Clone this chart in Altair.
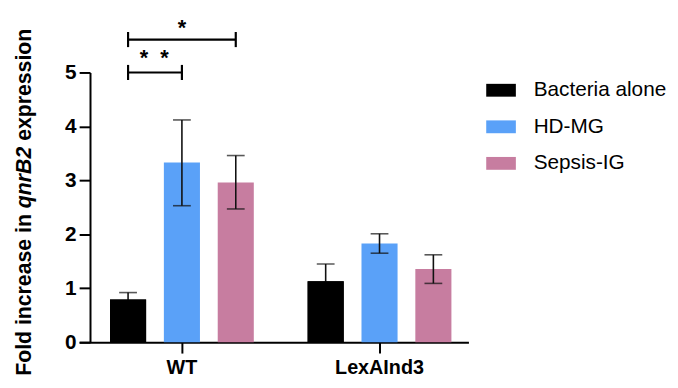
import altair as alt
import pandas as pd

# ---------------- data ----------------
groups = ["WT", "LexAInd3"]
series = ["Bacteria alone", "HD-MG", "Sepsis-IG"]
colors = ["#000000", "#5aa1f8", "#c77da0"]

wt_mean = [0.79, 3.33, 2.96]
wt_low = [0.66, 2.53, 2.47]
wt_high = [0.92, 4.12, 3.46]

lex_mean = [1.13, 1.83, 1.355]
lex_low = [0.81, 1.65, 1.09]
lex_high = [1.45, 2.01, 1.62]

y_ticks = [0, 1, 2, 3, 4, 5]

# significance brackets within WT
sig_group = ["WT", "WT"]
sig_from = ["Bacteria alone", "Bacteria alone"]
sig_to = ["HD-MG", "Sepsis-IG"]
sig_level = [5.0, 5.61]
sig_label = ["*\u00a0\u00a0*", "*"]
sig_label_pos = ["HD-MG", "HD-MG"]
sig_label_y = [5.34, 5.89]

title_parts = ["Fold increase in", "qnrB2", "expression"]

# ---------------- tables ----------------
rows = []
for g, m, lo, hi in [("WT", wt_mean, wt_low, wt_high), ("LexAInd3", lex_mean, lex_low, lex_high)]:
    for s, mm, l, h in zip(series, m, lo, hi):
        rows.append({"group": g, "series": s, "mean": mm, "low": l, "high": h})
df = pd.DataFrame(rows)

line_rows, tick_rows = [], []
for i, (g, a, b, lev) in enumerate(zip(sig_group, sig_from, sig_to, sig_level)):
    for s in (a, b):
        line_rows.append({"group": g, "series": s, "y": lev, "id": i})
        tick_rows.append({"group": g, "series": s, "y1": lev - 0.14, "y2": lev + 0.14})
lines_df = pd.DataFrame(line_rows)
ticks_df = pd.DataFrame(tick_rows)
lab_double = pd.DataFrame({"group": [sig_group[0]], "series": [sig_label_pos[0]],
                           "y": [sig_label_y[0]], "t": [sig_label[0]]})
lab_single = pd.DataFrame({"group": [sig_group[1]], "series": [sig_label_pos[1]],
                           "y": [sig_label_y[1]], "t": [sig_label[1]]})

# ---------------- layout ----------------
W, H = 394, 273
FONT = "Liberation Sans"

x_enc = alt.X(
    "group:N", sort=groups,
    scale=alt.Scale(paddingInner=0.1825, paddingOuter=0.07625, align=0.73),
    axis=alt.Axis(title=None, labelAngle=0, labelFont=FONT, labelFontSize=20,
                  labelFontWeight="bold", labelColor="black", labelPadding=5,
                  domainColor="black", domainWidth=2, tickColor="black",
                  tickWidth=2, tickSize=11),
)
xo_enc = alt.XOffset("series:N", sort=series,
                     scale=alt.Scale(paddingInner=0.33, paddingOuter=0.165))
y_scale = alt.Scale(domain=[0, 5], nice=False)

bars = alt.Chart(df).mark_bar().encode(
    x=x_enc, xOffset=xo_enc,
    y=alt.Y("mean:Q", scale=y_scale,
            axis=alt.Axis(title=None, values=y_ticks, grid=False, offset=-11,
                          labelFont=FONT, labelFontSize=21, labelFontWeight="bold",
                          labelColor="black", labelPadding=3, domainColor="black",
                          domainWidth=2, tickColor="black", tickWidth=2, tickSize=11)),
    color=alt.Color("series:N", sort=series,
                    scale=alt.Scale(domain=series, range=colors),
                    legend=alt.Legend(title=None, orient="none", legendX=412, legendY=3,
                                      symbolType="M-1,-0.433H1V0.433H-1Z",
                                      symbolSize=900, symbolStrokeWidth=0,
                                      symbolOpacity=1,
                                      labelFont=FONT, labelFontSize=21,
                                      labelColor="black", labelOffset=18,
                                      rowPadding=12)),
)

ERR = "#111111"
err = alt.Chart(df).mark_rule(color=ERR, strokeWidth=1.6).encode(
    x=x_enc, xOffset=xo_enc, y=alt.Y("low:Q", scale=y_scale), y2="high:Q")
cap_hi = alt.Chart(df).mark_tick(color=ERR, thickness=1.6, size=18,
                                 orient="horizontal").encode(
    x=x_enc, xOffset=xo_enc, y=alt.Y("high:Q", scale=y_scale))
cap_lo = alt.Chart(df).mark_tick(color=ERR, thickness=1.6, size=18,
                                 orient="horizontal").encode(
    x=x_enc, xOffset=xo_enc, y=alt.Y("low:Q", scale=y_scale))
# black bars hide their lower whisker (black on black)
bars_top = alt.Chart(df).transform_filter(alt.datum.series == series[0]).mark_bar(
    color="black").encode(x=x_enc, xOffset=xo_enc, y=alt.Y("mean:Q", scale=y_scale))

br_lines = alt.Chart(lines_df).mark_line(color="black", strokeWidth=2.2, clip=False).encode(
    x=x_enc, xOffset=xo_enc, y=alt.Y("y:Q", scale=y_scale), detail="id:N")
br_ticks = alt.Chart(ticks_df).mark_rule(color="black", strokeWidth=2.2, clip=False).encode(
    x=x_enc, xOffset=xo_enc, y=alt.Y("y1:Q", scale=y_scale), y2="y2:Q")
txt_kw = dict(font=FONT, fontSize=22, fontWeight="bold", color="black",
              baseline="middle", dy=4, clip=False)
br_text2 = alt.Chart(lab_double).mark_text(dx=-28, **txt_kw).encode(
    x=x_enc, xOffset=xo_enc, y=alt.Y("y:Q", scale=y_scale), text="t:N")
br_text1 = alt.Chart(lab_single).mark_text(**txt_kw).encode(
    x=x_enc, xOffset=xo_enc, y=alt.Y("y:Q", scale=y_scale), text="t:N")

# y-axis title in three pieces (middle piece italic)
TF = 21.5
em_part1 = 7.614
em_part2 = 2.889
em_space = 0.278
y1 = 307
y2 = y1 - (em_part1 + em_space) * TF
y3 = y2 - (em_part2 + em_space) * TF
TX = -49
t1 = alt.Chart(pd.DataFrame({"t": [title_parts[0]]})).mark_text(
    font=FONT, fontSize=TF, fontWeight="bold", angle=270, align="left",
    baseline="alphabetic", color="black", clip=False).encode(
    x=alt.value(TX), y=alt.value(y1), text="t:N")
t2 = alt.Chart(pd.DataFrame({"t": [title_parts[1]]})).mark_text(
    font=FONT, fontSize=TF, fontWeight="bold", fontStyle="italic", angle=270,
    align="left", baseline="alphabetic", color="black", clip=False).encode(
    x=alt.value(TX), y=alt.value(y2), text="t:N")
t3 = alt.Chart(pd.DataFrame({"t": [title_parts[2]]})).mark_text(
    font=FONT, fontSize=TF, fontWeight="bold", angle=270, align="left",
    baseline="alphabetic", color="black", clip=False).encode(
    x=alt.value(TX), y=alt.value(y3), text="t:N")

chart = alt.layer(bars, err, cap_hi, cap_lo, bars_top, br_lines, br_ticks,
                  br_text2, br_text1, t1, t2, t3).properties(
    width=W, height=H,
    autosize=alt.AutoSizeParams(type="none"),
    padding={"left": 72, "top": 63, "right": 204, "bottom": 36},
    background="white",
).configure_view(stroke=None)

chart.save("out.html", embed_options={"renderer": "svg", "actions": False})
